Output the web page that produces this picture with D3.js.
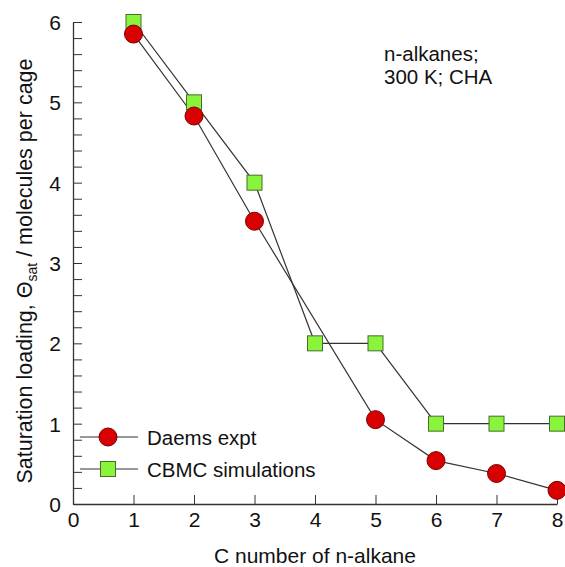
<!DOCTYPE html>
<html>
<head>
<meta charset="utf-8">
<script src="https://cdn.jsdelivr.net/npm/d3@7"></script>
<style>
  body { margin: 0; background: #fff; }
  svg text { font-family: Arial, "Liberation Sans", sans-serif; fill: #111; }
</style>
</head>
<body>
<div id="chart"></div>
<script>
// carbon numbers and loadings
const daemsX = [1, 2, 3, 5, 6, 7, 8];
const daemsY = [5.85, 4.83, 3.52, 1.05, 0.54, 0.38, 0.17];
const cbmcX = [1, 2, 3, 4, 5, 6, 7, 8];
const cbmcY = [6, 5, 4, 2, 2, 1, 1, 1];
const xTicks = [0, 1, 2, 3, 4, 5, 6, 7, 8];
const yTicks = [0, 1, 2, 3, 4, 5, 6];
const legendNames = ["Daems expt", "CBMC simulations"];

const svg = d3.select("#chart").append("svg")
    .attr("width", 565)
    .attr("height", 567);

const x = d3.scaleLinear().domain([0, 8]).range([73, 557]);
const y = d3.scaleLinear().domain([0, 6]).range([504, 22]);

// y axis: ticks pointing inward, minor every 0.2
const yMinor = d3.range(0, 6.001, 0.2);
svg.append("g")
    .attr("transform", `translate(${x(0)},0)`)
    .call(d3.axisRight(y).tickValues(yMinor).tickSize(9).tickFormat(""))
    .call(g => g.select(".domain").remove())
    .selectAll("line").attr("stroke", "#333");

svg.append("g")
    .attr("transform", `translate(${x(0)},0)`)
    .call(d3.axisLeft(y).tickValues(yTicks).tickSize(0).tickPadding(12).tickFormat(d3.format("d")))
    .call(g => g.select(".domain").attr("stroke", "#333").attr("stroke-width", 1.3))
    .selectAll("text").attr("font-size", 21).attr("dy", "0.35em");

// x axis
svg.append("g")
    .attr("transform", `translate(0,${y(0)})`)
    .call(d3.axisTop(x).tickValues(xTicks.slice(1)).tickSize(9).tickFormat(""))
    .call(g => g.select(".domain").remove())
    .selectAll("line").attr("stroke", "#333");

svg.append("g")
    .attr("transform", `translate(0,${y(0)})`)
    .call(d3.axisBottom(x).tickValues(xTicks).tickSize(0).tickPadding(8).tickFormat(d3.format("d")))
    .call(g => g.select(".domain").attr("stroke", "#333").attr("stroke-width", 1.3))
    .selectAll("text").attr("font-size", 21).attr("dy", "0.71em");

svg.selectAll(".tick text").attr("fill", "#111").attr("font-family", "Arial, 'Liberation Sans', sans-serif");

const line = d3.line().x(d => x(d[0])).y(d => y(d[1]));
const daems = daemsX.map((v, i) => [v, daemsY[i]]);
const cbmc = cbmcX.map((v, i) => [v, cbmcY[i]]);

svg.append("path").datum(cbmc).attr("d", line)
    .attr("fill", "none").attr("stroke", "#333").attr("stroke-width", 1.2);
svg.append("path").datum(daems).attr("d", line)
    .attr("fill", "none").attr("stroke", "#333").attr("stroke-width", 1.2);

const sq = 15;
svg.selectAll(".sq").data(cbmc).enter().append("rect")
    .attr("x", d => x(d[0]) - sq / 2)
    .attr("y", d => y(d[1]) - sq / 2)
    .attr("width", sq).attr("height", sq)
    .attr("fill", "#88f53a").attr("stroke", "#4a6a30").attr("stroke-width", 1);

svg.selectAll(".dot").data(daems).enter().append("circle")
    .attr("cx", d => x(d[0]))
    .attr("cy", d => y(d[1]))
    .attr("r", 9)
    .attr("fill", "#d80000").attr("stroke", "#7a0000").attr("stroke-width", 1);

// legend
const leg = svg.append("g");
[437, 469].forEach((ly, i) => {
    leg.append("line").attr("x1", 80).attr("x2", 138).attr("y1", ly).attr("y2", ly)
        .attr("stroke", "#333").attr("stroke-width", 1.2);
    if (i === 0) {
        leg.append("circle").attr("cx", 108).attr("cy", ly).attr("r", 9)
            .attr("fill", "#d80000").attr("stroke", "#7a0000");
    } else {
        leg.append("rect").attr("x", 108 - sq / 2).attr("y", ly - sq / 2)
            .attr("width", sq).attr("height", sq)
            .attr("fill", "#88f53a").attr("stroke", "#4a6a30");
    }
    leg.append("text").attr("x", 147).attr("y", ly + 7.5)
        .attr("font-size", 20.5).text(legendNames[i]);
});

// annotation
svg.append("text").attr("x", 384).attr("y", 61).attr("font-size", 20.5).text("n-alkanes;");
svg.append("text").attr("x", 384).attr("y", 84).attr("font-size", 20.5).text("300 K; CHA");

// axis titles
svg.append("text").attr("x", 315).attr("y", 563).attr("text-anchor", "middle")
    .attr("font-size", 21).text("C number of n-alkane");

const yt = svg.append("text")
    .attr("transform", "translate(32,271) rotate(-90)")
    .attr("text-anchor", "middle").attr("font-size", 21.5);
yt.append("tspan").text("Saturation loading, Θ");
yt.append("tspan").attr("font-size", 14).attr("dy", 5).text("sat");
yt.append("tspan").attr("dy", -5).text(" / molecules per cage");
</script>
</body>
</html>
